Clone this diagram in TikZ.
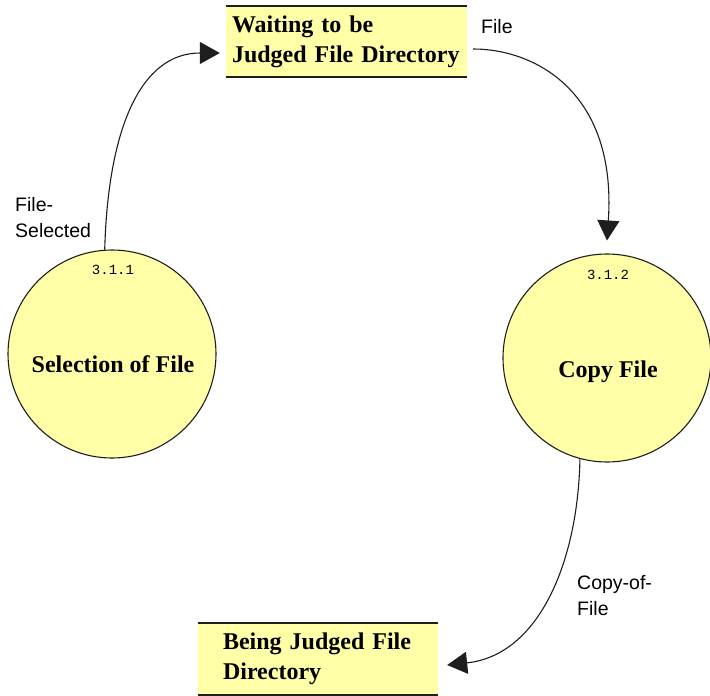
\documentclass[tikz,border=0pt]{standalone}
\usepackage{fontspec}
\setmainfont{Liberation Serif}
\setsansfont{Liberation Sans}
\setmonofont{Liberation Mono}
\usetikzlibrary{arrows.meta}
\definecolor{dfyellow}{RGB}{255,255,168}
\definecolor{dfline}{RGB}{30,30,30}
\tikzset{
  process/.style={circle, draw=dfline, line width=1.1pt, fill=dfyellow, minimum size=208pt, inner sep=0pt},
  store/.style={rectangle, fill=dfyellow, minimum height=71pt, align=left,
    font=\fontsize{24pt}{30pt}\selectfont\bfseries},
  storeline/.style={draw=dfline, line width=1.8pt},
  ptitle/.style={font=\fontsize{24pt}{29pt}\selectfont\bfseries, anchor=base},
  pnum/.style={font=\fontsize{14pt}{16pt}\ttfamily, anchor=base},
  flowlabel/.style={font=\fontsize{19.5pt}{26pt}\sffamily, align=left, anchor=base west, inner sep=0pt},
  flow/.style={draw=dfline, line width=1.1pt, -{Triangle[length=20pt,width=22pt]}}
}
\begin{document}
\begin{tikzpicture}[x=1pt,y=-1pt]
\useasboundingbox[fill=white] (0,0) rectangle (710,696);

% data stores
\node[store, text width=229pt, inner xsep=6pt] (wait) at (346.5,41.5) {\rule{0pt}{0pt}Waiting to be\\Judged File Directory};
\draw[storeline] (wait.north west) -- (wait.north east);
\draw[storeline] (wait.south west) -- (wait.south east);

\node[store, text width=190pt, inner xsep=25pt, minimum height=72pt, font=\fontsize{24pt}{29.5pt}\selectfont\bfseries] (being) at (318,659) {Being Judged File\\Directory};
\draw[storeline] (being.north west) -- (being.north east);
\draw[storeline] (being.south west) -- (being.south east);

% processes
\node[process] (sel) at (112,354) {};
\node[pnum] (selnum) at (113,274) {3.1.1};
\node[ptitle] (seltitle) at (113,372) {Selection of File};

\node[process] (copy) at (607,358) {};
\node[pnum] (copynum) at (608,279) {3.1.2};
\node[ptitle] (copytitle) at (608,377) {Copy File};

% arrow end points
\coordinate (t1) at ([xshift=-6pt,yshift=-11.5pt]wait.west);
\coordinate (t2) at ([yshift=13pt]copy.north);
\coordinate (t3) at ([xshift=9pt,yshift=-6pt]being.east);
\coordinate (s2) at ([xshift=6pt,yshift=-7.5pt]wait.east);

% flows
\draw[flow] (sel.94) .. controls (108,130) and (140,53) .. (t1);
\draw[flow] (s2) .. controls (535,49) and (617,92) .. (t2);
\draw[flow] (copy.255) .. controls (578,560) and (540,655) .. (t3);

% flow labels
\node[flowlabel] (lsel) at (15,237) {File-\\Selected};
\node[flowlabel] (lfile) at (481,33) {File};
\node[flowlabel] (lcopy) at (577,615) {Copy-of-\\File};
\end{tikzpicture}
\end{document}
